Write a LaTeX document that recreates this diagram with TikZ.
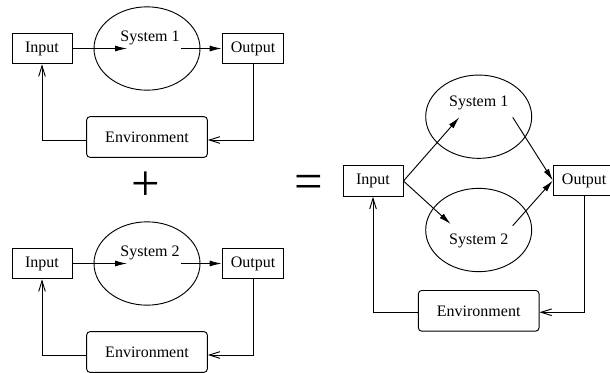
\documentclass[tikz,border=0pt]{standalone}
\usepackage{fontspec}
\setmainfont{Liberation Serif}
\usetikzlibrary{arrows.meta,shapes.geometric}

\tikzset{
  box/.style={draw,inner sep=0pt,minimum width=45pt,minimum height=23pt},
  envbox/.style={draw,rounded corners=2.5pt,inner sep=0pt,minimum width=90.5pt,minimum height=30.5pt},
  sysell/.style={draw,ellipse,inner sep=0pt,minimum width=79.5pt,minimum height=62.5pt},
  fwd/.style={-{Latex[length=9pt,width=4.5pt]}},
  back/.style={-{Straight Barb[length=8pt,width=5pt]}},
}

\begin{document}
\begin{tikzpicture}[x=0.75pt,y=-0.75pt,line width=0.7pt,font=\fontsize{12}{14}\selectfont]
  \useasboundingbox (0,0) rectangle (610,372);

  \node[box] (in1) at (42,48.5) {Input};
  \node[sysell] (sys1) at (147,48.5) {};
  \node (sys1l) at (150,38) {System 1};
  \node[box,minimum width=46.3pt] (out1) at (253,48.5) {Output};
  \node[envbox] (env1) at (147,137) {Environment};
  \coordinate (a1) at (127,48.5);
  \coordinate (b1) at (181,48.5);
  \draw[fwd] (in1) -- (a1);
  \draw[fwd] (b1) -- (out1);
  \draw[back] (out1.south) |- ([yshift=-2.25pt]env1.east);
  \draw[back] ([yshift=-2.25pt]env1.west) -| (in1.south);

  \node (plus) at (146,186) {\fontsize{38}{38}\selectfont +};

  \node[box] (in2) at (42,263.5) {Input};
  \node[sysell] (sys2) at (147,263.5) {};
  \node (sys2l) at (150,252.5) {System 2};
  \node[box,minimum width=46.3pt] (out2) at (253,263.5) {Output};
  \node[envbox] (env2) at (147,352) {Environment};
  \coordinate (a2) at (127,263.5);
  \coordinate (b2) at (181,263.5);
  \draw[fwd] (in2) -- (a2);
  \draw[fwd] (b2) -- (out2);
  \draw[back] (out2.south) |- ([yshift=-2.25pt]env2.east);
  \draw[back] ([yshift=-2.25pt]env2.west) -| (in2.south);

  \node (eq) at (308.7,186.5) {\fontsize{38}{38}\selectfont =};

  \node[box] (in3) at (373,181) {Input};
  \node[sysell] (sys3) at (478.7,116.7) {};
  \node (sys3l) at (478.7,103) {System 1};
  \node[sysell] (sys4) at (478.7,230) {};
  \node (sys4l) at (478.7,240.5) {System 2};
  \node[box,minimum width=46.3pt] (out3) at (584.2,180.5) {Output};
  \node[envbox] (env3) at (478.7,310.8) {Environment};
  \coordinate (c1) at (459.3,117.3);
  \coordinate (c2) at (450.7,224);
  \coordinate (d1) at (512.7,117.3);
  \coordinate (d2) at (512.7,225.7);
  \draw[fwd] (in3.east) -- (c1);
  \draw[fwd] (in3.east) -- (c2);
  \draw[fwd] (d1) -- (out3.west);
  \draw[fwd] (d2) -- (out3.west);
  \draw[back] (out3.south) |- ([yshift=-1.1pt]env3.east);
  \draw[back] ([yshift=-1.1pt]env3.west) -| (in3.south);
\end{tikzpicture}
\end{document}
